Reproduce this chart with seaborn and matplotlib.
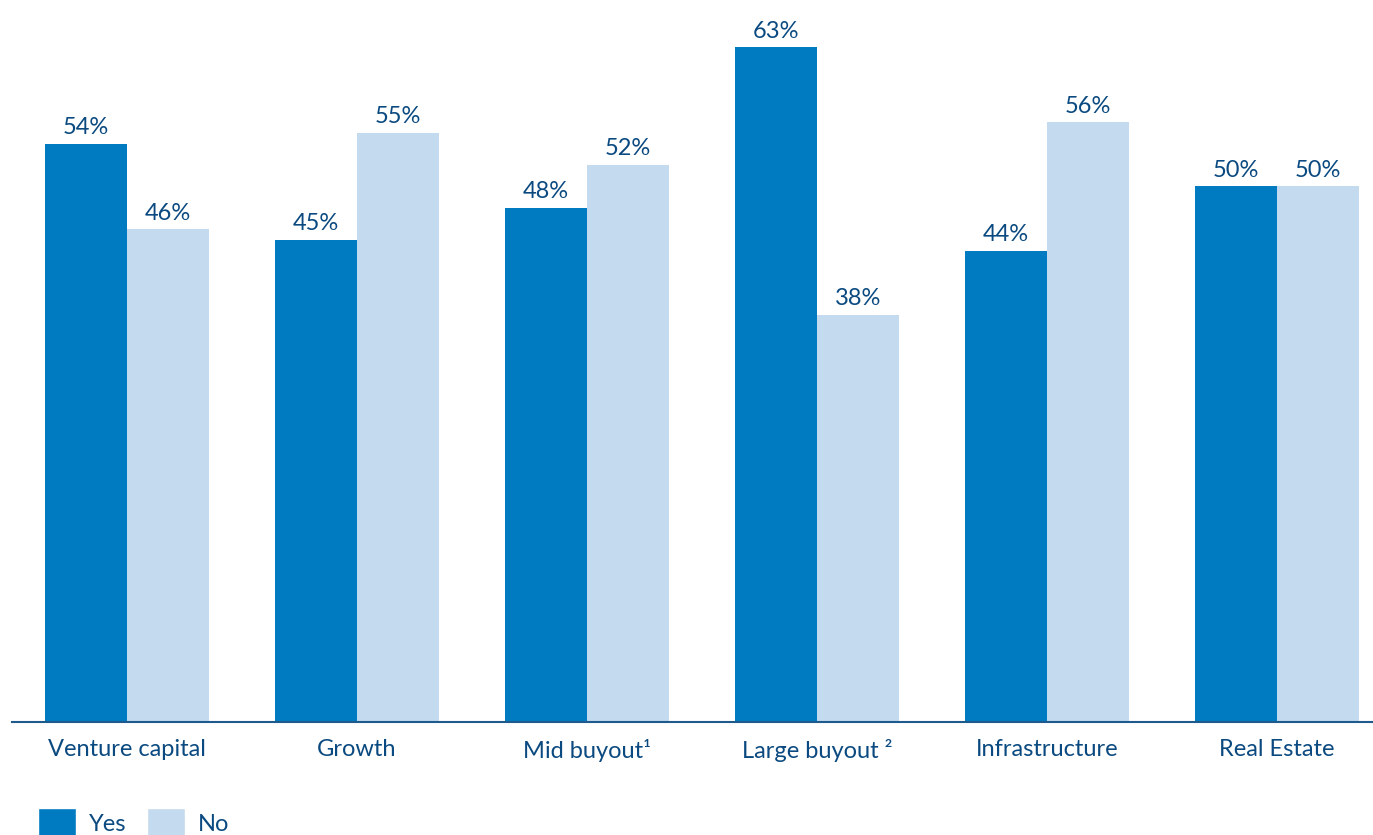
import numpy as np
import pandas as pd
import matplotlib
matplotlib.use("Agg")
import matplotlib.pyplot as plt
import seaborn as sns
from matplotlib.patches import Patch

categories = ["Venture capital", "Growth", "Mid buyout\u00b9", "Large buyout \u00b2",
              "Infrastructure", "Real Estate"]
yes_vals = [54, 45, 48, 63, 44, 50]
no_vals = [46, 55, 52, 38, 56, 50]
series = ["Yes", "No"]

yes_color = "#007BC2"
no_color = "#C4DAEE"
text_color = "#0B4A80"

df = pd.DataFrame({
    "category": categories * 2,
    "answer": ["Yes"] * len(categories) + ["No"] * len(categories),
    "value": yes_vals + no_vals,
})

sns.set_theme(style="white")
plt.rcParams['font.family'] = ['Lato', 'DejaVu Sans']

fig = plt.figure(figsize=(13.73, 8.35), dpi=100)
ax = fig.add_axes([12 / 1373, 113 / 835, 1 - 12 / 1373, 1 - 113 / 835])

sns.barplot(data=df, x="category", y="value", hue="answer", hue_order=series,
            palette=[yes_color, no_color], width=0.713, gap=0, saturation=1,
            errorbar=None, ax=ax, legend=False, linewidth=0)

for cont in ax.containers:
    ax.bar_label(cont, fmt="%d%%", padding=4, fontsize=17, color=text_color)

ax.set_xlim(-0.5, (1373 - 127) / 230)
ax.set_ylim(0, 67.4)
ax.set_xlabel("")
ax.set_ylabel("")
ax.set_yticks([])
ax.tick_params(axis="x", length=0, pad=12, labelsize=17, labelcolor=text_color)
for s in ["top", "right", "left"]:
    ax.spines[s].set_visible(False)
ax.spines["bottom"].set_color("#1F5A8C")
ax.spines["bottom"].set_linewidth(1.5)

handles = [Patch(facecolor=yes_color, label="Yes"), Patch(facecolor=no_color, label="No")]
fig.legend(handles=handles, loc="lower left", bbox_to_anchor=(0.012, -0.03), ncol=2,
           frameon=False, fontsize=17, labelcolor=text_color, handlelength=1.6,
           handleheight=1.6, handletextpad=0.55, columnspacing=0.9)

fig.savefig("out.png", dpi=100)
